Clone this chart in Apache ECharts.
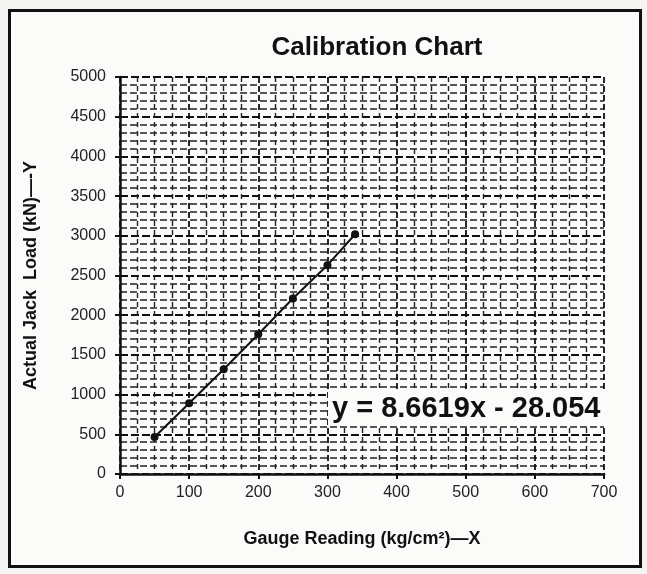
<!DOCTYPE html>
<html lang="en">
<head>
    <meta charset="UTF-8">
    <title>Calibration Chart</title>
    <script src="https://cdn.jsdelivr.net/npm/echarts@6/dist/echarts.min.js"></script>
    <style>
        html, body { margin: 0; padding: 0; background: #f4f4f2; }
        #frame {
            position: absolute; left: 8px; top: 9px; width: 628px; height: 553px;
            border: 3px solid #111; background: #fbfbfa;
        }
        #chart { position: absolute; left: 0; top: 0; width: 647px; height: 574px; }
    </style>
</head>
<body>
    <div id="frame"></div>
    <div id="chart"></div>
    <script>
        // gauge reading (kg/cm2) and jack load (kN)
        var gaugeReading = [50, 100, 150, 200, 250, 300, 340];
        var jackLoad = [466, 890, 1320, 1760, 2210, 2630, 3020];
        var equationText = 'y = 8.6619x - 28.054';

        var chart = echarts.init(document.getElementById('chart'));
        var font = 'Liberation Sans, Arial, sans-serif';

        chart.setOption({
            backgroundColor: 'transparent',
            title: {
                text: 'Calibration Chart',
                left: 372, top: 30, textAlign: 'center',
                textStyle: { fontFamily: font, fontSize: 26, fontWeight: 'bold', color: '#111' }
            },
            grid: { left: 120, right: 43, top: 77, bottom: 100 },
            xAxis: {
                type: 'value', min: 0, max: 700, interval: 100,
                name: 'Gauge Reading (kg/cm²)—X',
                nameLocation: 'middle', nameGap: 56,
                nameTextStyle: { fontFamily: font, fontSize: 18, fontWeight: 'bold', color: '#111' },
                axisLine: { lineStyle: { color: '#111', width: 2.5 } },
                axisTick: { show: true, length: 5, lineStyle: { color: '#111', width: 2 } },
                axisLabel: { fontFamily: font, fontSize: 16, color: '#222', margin: 11 },
                splitLine: { show: true, lineStyle: { color: '#111', width: 1.8, type: [6, 3] } },
                minorTick: { show: false, splitNumber: 4 },
                minorSplitLine: { show: true, lineStyle: { color: '#222', width: 1.4, type: [5, 4] } }
            },
            yAxis: {
                type: 'value', min: 0, max: 5000, interval: 500,
                name: 'Actual Jack  Load (kN)—-Y',
                nameLocation: 'middle', nameGap: 80, nameRotate: 90,
                nameTextStyle: { fontFamily: font, fontSize: 18, fontWeight: 'bold', color: '#111' },
                axisLine: { show: true, lineStyle: { color: '#111', width: 2.5 } },
                axisTick: { show: true, length: 5, lineStyle: { color: '#111', width: 2 } },
                axisLabel: {
                    fontFamily: font, fontSize: 16, color: '#222', margin: 14,
                    formatter: function (v) { return String(v); }
                },
                splitLine: { show: true, lineStyle: { color: '#111', width: 2, type: [8, 3] } },
                minorTick: { show: false, splitNumber: 5 },
                minorSplitLine: { show: true, lineStyle: { color: '#222', width: 1.6, type: [7, 3] } }
            },
            series: [{
                type: 'line',
                data: gaugeReading.map(function (x, i) { return [x, jackLoad[i]]; }),
                symbol: 'circle', symbolSize: 8,
                itemStyle: { color: '#111' },
                lineStyle: { color: '#111', width: 2 }
            }],
            graphic: [{
                type: 'text',
                left: 328, top: 391,
                z: 10,
                style: {
                    text: equationText,
                    font: 'bold 29px ' + font,
                    fill: '#111',
                    backgroundColor: '#fbfbfa',
                    padding: [3, 6, 3, 4]
                }
            }]
        });
    </script>
</body>
</html>
